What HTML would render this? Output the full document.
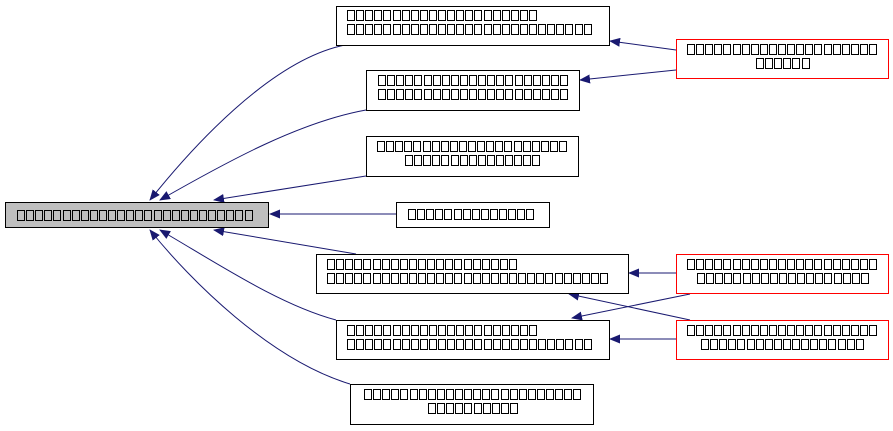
<!DOCTYPE html>
<html><head><meta charset="utf-8"><style>
html,body{margin:0;padding:0;background:#fff;width:893px;height:431px;overflow:hidden}
</style></head><body>
<svg id="s" width="893" height="431" xmlns="http://www.w3.org/2000/svg" font-family="Liberation Sans, sans-serif">
<defs><marker id="a" markerWidth="11" markerHeight="9" refX="10" refY="4.5" orient="auto" markerUnits="userSpaceOnUse"><path d="M0,0 L11,4.5 L0,9 z" fill="#191970"/></marker></defs>
<g fill="none" stroke="#191970" stroke-width="1" marker-end="url(#a)">
<path d="M345,45 C270,60 190,150 150,200"/>
<path d="M366,110 C300,122 230,160 160,200"/>
<path d="M366,176 L214,200"/>
<path d="M396,214 L270,214"/>
<path d="M356,254 L214,230"/>
<path d="M336,320 C280,305 220,265 160,230"/>
<path d="M350,384 C270,360 190,280 150,230"/>
<path d="M676,50 L610,41"/>
<path d="M676,70 L580,80"/>
<path d="M676,273 L629,273"/>
<path d="M690,294 L572,318"/>
<path d="M690,320 L569,294"/>
<path d="M676,339 L610,339"/>
</g>
<g stroke-width="1">
<rect x="5.5" y="202.5" width="263" height="25" fill="#bfbfbf" stroke="#000"/>
<rect x="336.5" y="6.5" width="273" height="39" fill="#fff" stroke="#000"/>
<rect x="366.5" y="70.5" width="213" height="40" fill="#fff" stroke="#000"/>
<rect x="366.5" y="136.5" width="212" height="40" fill="#fff" stroke="#000"/>
<rect x="396.5" y="202.5" width="153" height="25" fill="#fff" stroke="#000"/>
<rect x="316.5" y="254.5" width="312" height="39" fill="#fff" stroke="#000"/>
<rect x="336.5" y="320.5" width="273" height="39" fill="#fff" stroke="#000"/>
<rect x="350.5" y="384.5" width="243" height="40" fill="#fff" stroke="#000"/>
<rect x="676.5" y="39.5" width="212" height="39" fill="#fff" stroke="#f00"/>
<rect x="676.5" y="254.5" width="212" height="39" fill="#fff" stroke="#f00"/>
<rect x="676.5" y="320.5" width="212" height="39" fill="#fff" stroke="#f00"/>
</g>
<g id="t" fill="none" stroke="#000" stroke-width="1"></g>
</svg>
<script>
var g=document.getElementById('t'),P=9.1;
function row(x,y,n){for(var i=0;i<n;i++){var r=document.createElementNS('http://www.w3.org/2000/svg','rect');r.setAttribute('x',String(Math.round(x+i*P)+0.5));r.setAttribute('y',String(y+0.5));r.setAttribute('width','7');r.setAttribute('height','10');g.appendChild(r);}}
function crow(cx,y,n){row(Math.round(cx-(n*P-2)/2),y,n);}
row(17,210,26);
row(347,10,21);row(347,24,27);
crow(473,75,21);crow(473,89,21);
crow(472,141,21);crow(472,155,15);
row(408,209,14);
row(327,259,21);row(327,273,31);
row(347,325,21);row(347,339,27);
crow(472,389,24);crow(472,403,10);
crow(782,44,21);crow(782,58,6);
crow(782,259,21);crow(782,273,19);
crow(782,325,21);crow(782,339,18);
</script>
</body></html>
